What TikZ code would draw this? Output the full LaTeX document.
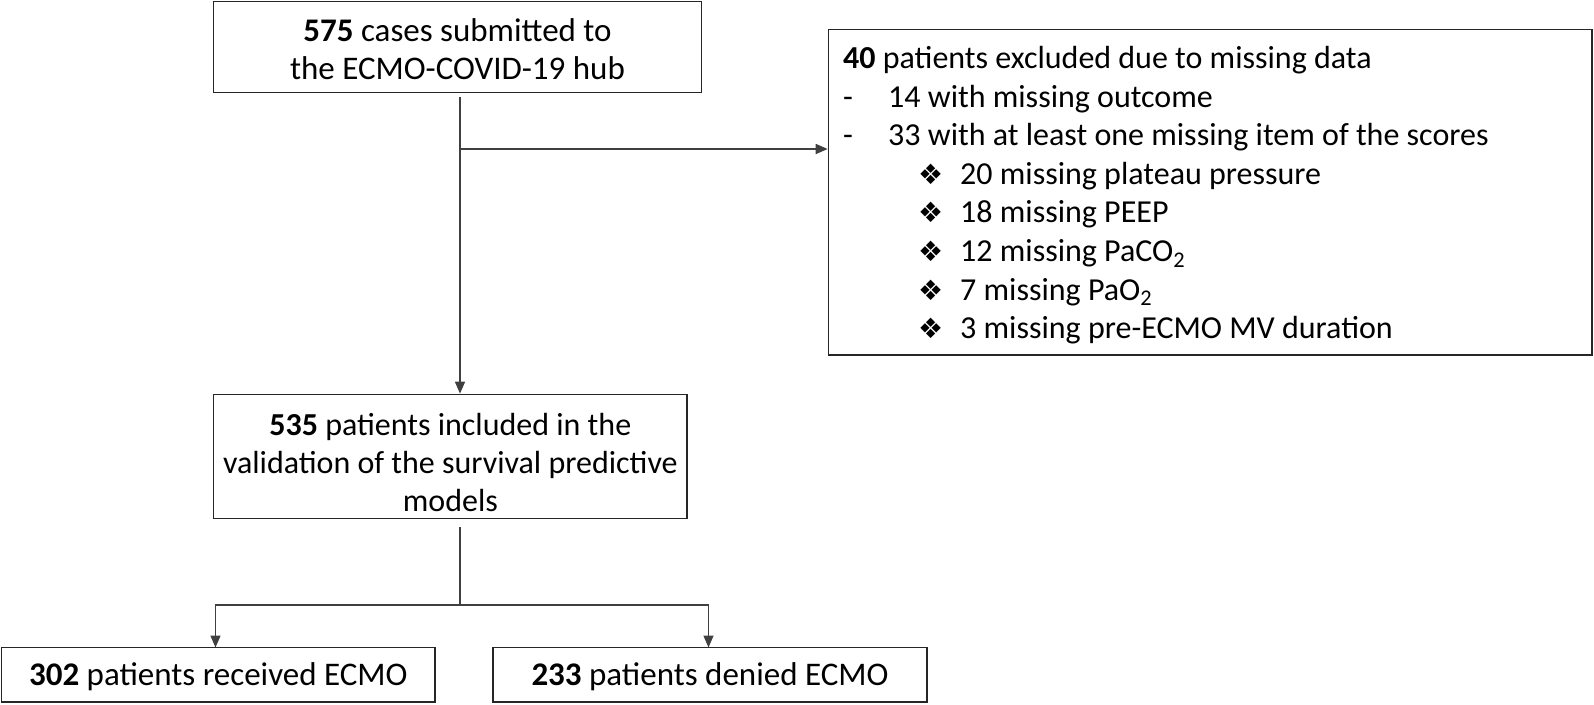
\documentclass[tikz,border=0pt]{standalone}
\usepackage{fontspec}
\setmainfont{Carlito}
\newfontfamily\dejavu{DejaVu Sans}
\usetikzlibrary{arrows.meta}
\newcommand{\dmd}{\makebox[42pt][l]{\dejavu\fontsize{28}{28}\selectfont ❖}}
\begin{document}
\begin{tikzpicture}[x=1pt,y=-1pt,
  box/.style={draw=black!85,line width=1.6pt,inner sep=0pt},
  conn/.style={draw=black!75,line width=1.5pt},
  arr/.style={conn,-{Triangle[length=12pt,width=10pt]}},
  txt/.style={font=\fontsize{33}{38.5}\selectfont,align=center,inner sep=0pt},
  txtb/.style={font=\fontsize{32}{38}\selectfont,align=center,inner sep=0pt},
  txtc/.style={font=\fontsize{32}{38.6}\selectfont,align=left,inner sep=0pt}]
\useasboundingbox (0,0) rectangle (1594,704);
\node[box,minimum width=488pt,minimum height=91pt] (b1) at (457.5,47) {};
\node[txt] (t1) at (457.5,49) {\textbf{575} cases submitted to\\the ECMO-COVID-19 hub};
\node[box,minimum width=763.5pt,minimum height=325.3pt] (b2) at (1210.25,192.15) {};
\node[txtc,anchor=north west] (t2) at (843,46) {%
\textbf{40} patients excluded due to missing data\\
\makebox[45pt][l]{-}14 with missing outcome\\
\makebox[45pt][l]{-}33 with at least one missing item of the scores\\
\hspace*{75pt}\dmd20 missing plateau pressure\\
\hspace*{75pt}\dmd18 missing PEEP\\
\hspace*{75pt}\dmd12 missing PaCO\textsubscript{2}\\
\hspace*{75pt}\dmd7 missing PaO\textsubscript{2}\\
\hspace*{75pt}\dmd3 missing pre-ECMO MV duration};
\node[box,minimum width=473.7pt,minimum height=124pt] (b3) at (450.35,456.45) {};
\node[txtb] (t3) at (450.35,462.5) {\textbf{535} patients included in the\\validation of the survival predictive\\models};
\node[box,minimum width=433.5pt,minimum height=54.5pt] (b4) at (218.25,674.75) {};
\node[txt] (t4) at (218.25,677) {\textbf{302} patients received ECMO};
\node[box,minimum width=434pt,minimum height=54.5pt] (b5) at (710,674.75) {};
\node[txt] (t5) at (710,677) {\textbf{233} patients denied ECMO};
\coordinate (s1) at (460,97);
\coordinate (j1) at (460,149);
\coordinate (s2) at (460,527);
\coordinate (j2) at (460,605);
\coordinate (a4) at (215.5,647.5);
\coordinate (a5) at (708.5,647.5);
\draw[arr] (s1) -- (s1 |- b3.north);
\draw[arr] (j1) -- (j1 -| b2.west);
\draw[conn] (s2) -- (j2);
\draw[arr] (j2) -| (a4);
\draw[arr] (j2) -| (a5);
\end{tikzpicture}
\end{document}
